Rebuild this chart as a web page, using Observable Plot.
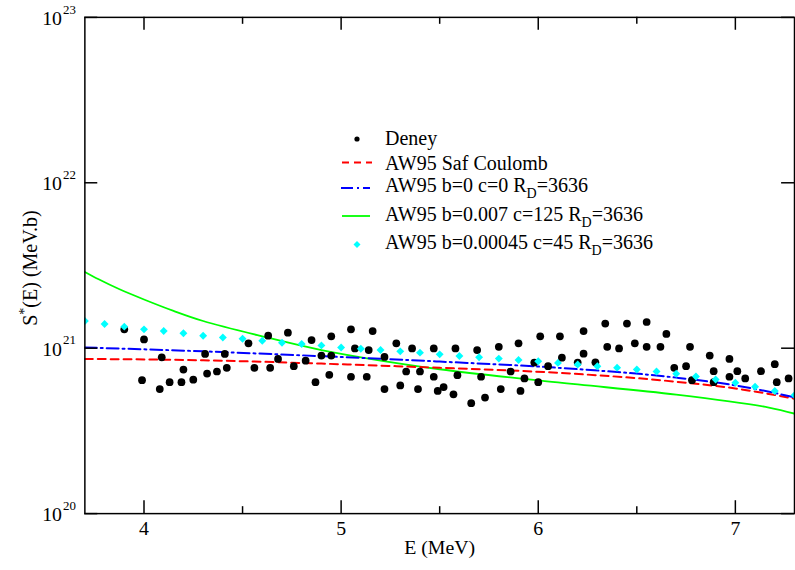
<!DOCTYPE html>
<html><head><meta charset="utf-8">
<script src="https://cdn.jsdelivr.net/npm/d3@7"></script>
<script src="https://cdn.jsdelivr.net/npm/@observablehq/plot@0.6"></script>
<style>
html,body{margin:0;padding:0;background:#fff;overflow:hidden;}
#wrap{position:relative;width:795px;height:570px;overflow:hidden;font-family:"Liberation Serif","Times New Roman",serif;color:#000;}
#wrap svg.plot{position:absolute;left:0;top:0;}
#ylab{position:absolute;left:30px;top:268px;transform:translate(-50%,-50%) rotate(-90deg);font-size:20px;white-space:nowrap;line-height:20px;}
#ylab sup{font-size:14px;line-height:0;vertical-align:8px;}
.lt{position:absolute;left:385px;font-size:20px;line-height:20px;white-space:nowrap;}
.lt sub{font-size:14px;line-height:0;vertical-align:-6px;}
#lsym{position:absolute;left:0;top:0;}
</style></head><body><div id="wrap"></div>
<script>
// ---- data ----
const deneyE = [3.90,3.99,4.00,4.08,4.09,4.13,4.19,4.20,4.25,4.31,4.32,4.37,4.41,4.42,4.53,4.56,4.63,4.64,4.68,4.73,
  4.76,4.82,4.85,4.87,4.90,4.94,4.95,4.95,5.05,5.05,5.07,5.13,5.14,5.16,5.22,5.22,5.28,5.30,5.33,5.36,
  5.39,5.40,5.47,5.47,5.49,5.52,5.57,5.58,5.59,5.66,5.69,5.71,5.73,5.80,5.81,5.86,5.90,5.91,5.93,5.98,
  6.00,6.01,6.05,6.11,6.12,6.20,6.23,6.23,6.29,6.34,6.35,6.41,6.45,6.49,6.55,6.55,6.62,6.65,6.69,6.75,
  6.77,6.78,6.87,6.89,6.89,6.97,6.97,7.01,7.05,7.13,7.20,7.21,7.27];
const deneyS = [1.30e21,6.41e20,1.13e21,5.66e20,8.81e20,6.23e20,6.23e20,7.43e20,6.45e20,9.23e20,7.03e20,7.23e20,9.23e20,7.61e20,1.07e21,7.61e20,1.19e21,7.61e20,8.61e20,1.24e21,
  7.78e20,8.41e20,1.12e21,6.23e20,9.02e20,6.90e20,9.02e20,1.18e21,1.30e21,6.72e20,9.97e20,6.72e20,9.75e20,1.27e21,5.66e20,8.86e20,1.07e21,5.96e20,7.23e20,9.97e20,
  5.66e20,7.23e20,6.72e20,9.97e20,5.52e20,5.82e20,5.26e20,9.97e20,6.87e20,4.65e20,9.75e20,6.72e20,5.03e20,1.02e21,5.66e20,7.23e20,1.07e21,5.52e20,6.56e20,8.19e20,
  6.23e20,1.18e21,7.78e20,1.18e21,8.77e20,8.19e20,1.27e21,9.27e20,8.22e20,1.41e21,1.02e21,9.97e20,1.41e21,1.07e21,1.44e21,1.02e21,1.02e21,1.22e21,7.61e20,7.78e20,
  1.02e21,6.41e20,9.02e20,7.26e20,6.23e20,8.61e20,6.72e20,7.26e20,6.56e20,7.26e20,8.00e20,6.23e20,6.56e20];

const safE = [3.7,4.3,4.9,5.5,6.1,6.7,7.0,7.3];
const safS = [8.61e20,8.45e20,8.07e20,7.61e20,7.10e20,6.27e20,5.71e20,4.95e20];

const b0E = [3.7,4.3,4.9,5.5,6.1,6.7,7.0,7.3];
const b0S = [1.01e21,9.57e20,8.95e20,8.30e20,7.61e20,6.64e20,5.96e20,5.05e20];

const b007E = [3.7,3.77,3.876,4.0,4.15,4.3,4.6,4.9,5.5,6.1,6.7,7.17,7.3];
const b007S = [2.89e21,2.61e21,2.27e21,1.97e21,1.68e21,1.46e21,1.18e21,9.75e20,7.46e20,6.21e20,5.24e20,4.38e20,4.02e20];

const b45E = [3.7,3.8,3.9,4.0,4.1,4.2,4.3,4.4,4.5,4.6,4.7,4.8,4.9,5.0,5.1,5.2,5.3,5.4,5.5,5.6,
  5.7,5.8,5.9,6.0,6.1,6.2,6.3,6.4,6.5,6.6,6.7,6.8,6.9,7.0,7.1,7.2,7.3];
const b45S = [1.46e21,1.40e21,1.35e21,1.30e21,1.27e21,1.23e21,1.19e21,1.16e21,1.14e21,1.11e21,1.08e21,1.06e21,1.04e21,1.01e21,9.93e20,9.75e20,9.57e20,9.40e20,9.18e20,8.98e20,
  8.81e20,8.65e20,8.49e20,8.34e20,8.15e20,7.96e20,7.78e20,7.61e20,7.43e20,7.23e20,7.00e20,6.75e20,6.47e20,6.18e20,5.85e20,5.51e20,5.19e20];

const xMajor = [4,5,6,7];
const xMinor = [4.5,5.5,6.5];
const yMajor = [1e20,1e21,1e22,1e23];
const xTitle = "E (MeV)";

const legendLabels = ["Deney","AW95 Saf Coulomb","AW95 b=0 c=0 R<sub>D</sub>=3636",
  "AW95 b=0.007 c=125 R<sub>D</sub>=3636","AW95 b=0.00045 c=45 R<sub>D</sub>=3636"];

// ---- layout ----
const W = 801, H = 570, mL = 85, mR = 1, mT = 17, mB = 53;
const pw = W - mL - mR, ph = H - mT - mB;
const zip = (a, b) => a.map((x, i) => ({x, y: b[i]}));

const chart = Plot.plot({
  width: W, height: H,
  marginLeft: mL, marginRight: mR, marginTop: mT, marginBottom: mB,
  style: {fontFamily: '"Liberation Serif","Times New Roman",serif', background: "white", color: "black"},
  x: {domain: [3.7, 7.3]},
  y: {type: "log", domain: [1e20, 1e23]},
  marks: [
    Plot.line(zip(b007E, b007S), {x: "x", y: "y", stroke: "#00ff00", strokeWidth: 1.8, curve: "catmull-rom", clip: true}),
    Plot.line(zip(safE, safS), {x: "x", y: "y", stroke: "#ff0000", strokeWidth: 2, strokeDasharray: "8,5", curve: "monotone-x", clip: true}),
    Plot.line(zip(b0E, b0S), {x: "x", y: "y", stroke: "#0000ff", strokeWidth: 2, strokeDasharray: "12,4,2,4", curve: "monotone-x", clip: true}),
    Plot.dot(zip(deneyE, deneyS), {x: "x", y: "y", r: 3.9, fill: "black", stroke: "none", clip: true}),
    Plot.dot(zip(b45E, b45S), {x: "x", y: "y", r: 3.6, symbol: "diamond2", fill: "#00ffff", stroke: "none", clip: true}),
    // inward ticks
    Plot.tickX(xMajor, {x: d => d, insetTop: ph - 13, stroke: "black", strokeWidth: 1.5}),
    Plot.tickX(xMajor, {x: d => d, insetBottom: ph - 13, stroke: "black", strokeWidth: 1.5}),
    Plot.tickX(xMinor, {x: d => d, insetTop: ph - 7, stroke: "black", strokeWidth: 1.5}),
    Plot.tickX(xMinor, {x: d => d, insetBottom: ph - 7, stroke: "black", strokeWidth: 1.5}),
    Plot.tickY(yMajor, {y: d => d, insetRight: pw - 13, stroke: "black", strokeWidth: 1.5}),
    Plot.tickY(yMajor, {y: d => d, insetLeft: pw - 13, stroke: "black", strokeWidth: 1.5}),
    Plot.frame({stroke: "black", strokeWidth: 1.5}),
    // axis labels
    Plot.axisX({ticks: xMajor, tickSize: 0, tickPadding: 7, fontSize: 20, label: null, tickFormat: d => String(d)}),
    Plot.axisY({ticks: yMajor, tickSize: 0, tickPadding: 23, fontSize: 20, label: null, dy: 1, tickFormat: () => "10"}),
    Plot.text(yMajor, {y: d => d, frameAnchor: "left", dx: -22, dy: -8, textAnchor: "start", lineAnchor: "middle", fontSize: 13, text: d => String(Math.round(Math.log10(d)))}),
    Plot.text([xTitle], {frameAnchor: "bottom", dy: 41, lineAnchor: "bottom", fontSize: 20, text: d => d})
  ]
});
chart.classList.add("plot");
const wrap = document.getElementById("wrap");
wrap.appendChild(chart);

// y label
const yl = document.createElement("div");
yl.id = "ylab";
yl.innerHTML = "S<sup>*</sup>(E) (MeV.b)";
wrap.appendChild(yl);

// legend symbols
const ns = "http://www.w3.org/2000/svg";
const ls = document.createElementNS(ns, "svg");
ls.setAttribute("id", "lsym"); ls.setAttribute("width", 795); ls.setAttribute("height", 570);
ls.innerHTML = `
  <circle cx="357" cy="139" r="2.6" fill="black"/>
  <line x1="342" x2="372" y1="162.5" y2="162.5" stroke="#ff0000" stroke-width="2" stroke-dasharray="7,5"/>
  <line x1="341" x2="370" y1="188" y2="188" stroke="#0000ff" stroke-width="2" stroke-dasharray="12,4,2,4"/>
  <line x1="342" x2="370" y1="216" y2="216" stroke="#00ff00" stroke-width="1.8"/>
  <path d="M357,241 L360.5,244.5 L357,248 L353.5,244.5 Z" fill="#00ffff"/>`;
wrap.appendChild(ls);
const tops = [128.3, 152.6, 175, 204, 231.6];
legendLabels.forEach((t, i) => {
  const d = document.createElement("div");
  d.className = "lt";
  d.style.top = tops[i] + "px";
  d.innerHTML = t;
  wrap.appendChild(d);
});
</script>
</body></html>
